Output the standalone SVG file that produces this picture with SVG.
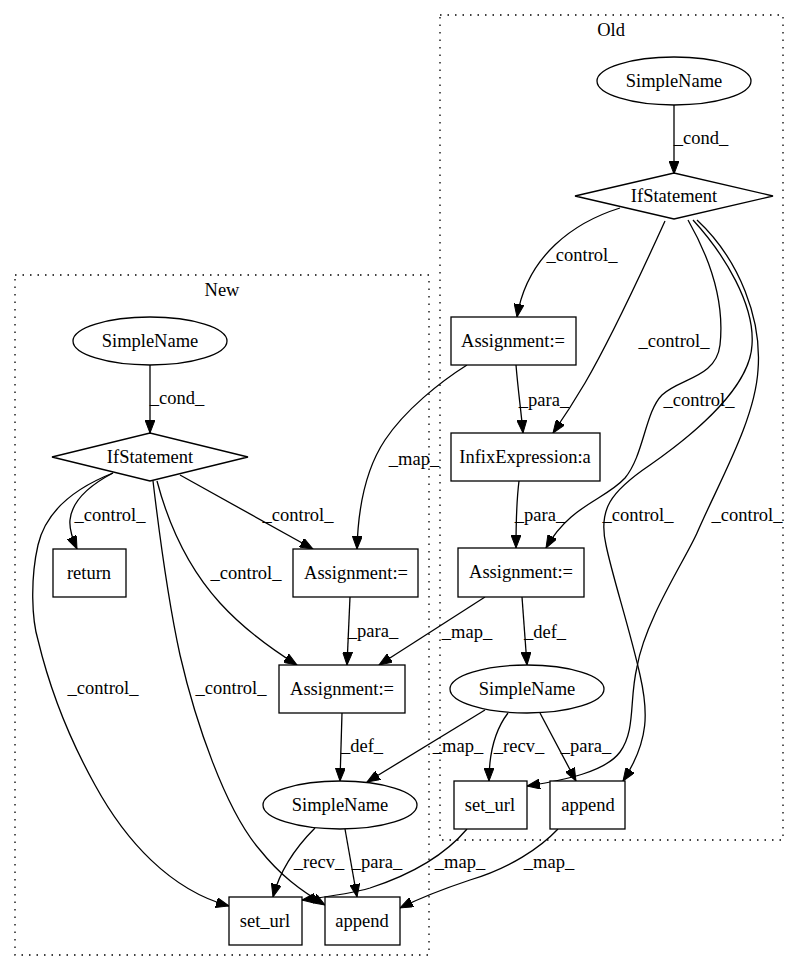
<svg xmlns="http://www.w3.org/2000/svg" width="800" height="972" viewBox="0 0 800 972">
<defs>
<marker id="ah" markerUnits="userSpaceOnUse" markerWidth="14" markerHeight="10" refX="13" refY="5" orient="auto">
<path d="M0,0 L13,5 L0,10 z" fill="#000" stroke="#000" stroke-width="1"/>
</marker>
<style>
text{font-family:"Liberation Serif","Times New Roman",serif;font-size:18.5px;fill:#000}
.n text,.cl{text-anchor:middle}
.lb{text-anchor:middle}
.n rect,.n ellipse,.n polygon{fill:#fff;stroke:#000;stroke-width:1.3}
.e path{fill:none;stroke:#000;stroke-width:1.3;marker-end:url(#ah)}
.c{fill:none;stroke:#000;stroke-width:1.3;stroke-dasharray:1.5,6}
</style>
</defs>
<rect x="0" y="0" width="800" height="972" fill="#fff"/>
<g id="clusters">
<rect class="c" x="440" y="15" width="343" height="825"/>
<text class="cl" x="611" y="36">Old</text>
<rect class="c" x="15" y="275" width="414" height="680"/>
<text class="cl" x="222" y="296">New</text>
</g>
<g id="connectors" class="e">
<path d="M674,105 L674,174"/>
<path d="M620,208 C575,222 527,255 517,317"/>
<path d="M665,221 C645,265 610,340 585,383 C572,405 562,420 553,433"/>
<path d="M688,220 C708,255 725,300 720,345 C716,378 680,378 662,395 C645,412 644,455 625,478 C605,500 570,505 546,548"/>
<path d="M693,220 C725,255 755,305 752,345 C750,385 700,430 650,465 C610,492 598,510 606,545 C612,575 630,630 640,675 C648,710 650,740 623,781"/>
<path d="M697,220 C740,260 762,320 758,370 C755,420 720,480 697,533 C685,560 645,620 637,667 C629,700 636,730 620,752 C605,772 565,780 527,786"/>
<path d="M516,365 C518,390 521,410 523,433"/>
<path d="M519,481 C516,505 516,525 516,548"/>
<path d="M522,597 L527,665"/>
<path d="M508,713 C495,730 489,755 489,781"/>
<path d="M540,713 L576,781"/>
<path d="M467,365 C440,382 405,410 385,440 C365,470 358,510 357,549"/>
<path d="M485,597 L379,665"/>
<path d="M485,710 L367,782"/>
<path d="M467,829 C445,855 410,875 370,888 C350,894 325,897 302,900"/>
<path d="M558,829 C540,848 510,868 470,880 C440,890 420,898 400,908"/>
<path d="M150,365 L150,433"/>
<path d="M113,473 C90,485 72,500 70,520 C69,530 73,540 77,549"/>
<path d="M180,475 L313,549"/>
<path d="M157,481 C170,530 190,570 220,603 C240,625 265,645 297,665"/>
<path d="M113,473 C70,490 45,515 38,545 C30,580 32,620 38,640 C50,690 70,740 95,785 C125,840 170,890 229,906"/>
<path d="M153,481 C160,540 168,600 180,655 C195,720 225,810 260,850 C280,875 300,890 325,905"/>
<path d="M350,597 L347,665"/>
<path d="M342,713 L340,781"/>
<path d="M315,828 C295,848 280,870 273,897"/>
<path d="M345,829 L357,897"/>
</g>
<g id="edge-labels" class="lb">
<text x="701" y="144">_cond_</text>
<text x="582" y="261">_control_</text>
<text x="674" y="347">_control_</text>
<text x="699" y="406">_control_</text>
<text x="638" y="521">_control_</text>
<text x="747" y="521">_control_</text>
<text x="544" y="406">_para_</text>
<text x="540" y="521">_para_</text>
<text x="467" y="638">_map_</text>
<text x="545" y="638">_def_</text>
<text x="414" y="465">_map_</text>
<text x="458" y="752">_map_</text>
<text x="519" y="752">_recv_</text>
<text x="586" y="752">_para_</text>
<text x="460" y="868">_map_</text>
<text x="549" y="868">_map_</text>
<text x="177" y="404">_cond_</text>
<text x="110" y="521">_control_</text>
<text x="298" y="521">_control_</text>
<text x="246" y="579">_control_</text>
<text x="103" y="694">_control_</text>
<text x="231" y="694">_control_</text>
<text x="373" y="637">_para_</text>
<text x="362" y="752">_def_</text>
<text x="319" y="868">_recv_</text>
<text x="377" y="868">_para_</text>
</g>
<g id="old_cond" class="n"><ellipse cx="674" cy="81" rx="77" ry="24"/><text x="674" y="87">SimpleName</text></g>
<g id="old_if" class="n"><polygon points="575,196 674,173 773,196 674,219"/><text x="674" y="202">IfStatement</text></g>
<g id="old_assign1" class="n"><rect x="451" y="317" width="125" height="48"/><text x="513" y="347">Assignment:=</text></g>
<g id="old_infix" class="n"><rect x="451" y="433" width="149" height="48"/><text x="525" y="463">InfixExpression:a</text></g>
<g id="old_assign2" class="n"><rect x="458" y="548" width="126" height="49"/><text x="521" y="578">Assignment:=</text></g>
<g id="old_name" class="n"><ellipse cx="527" cy="689" rx="77" ry="24"/><text x="527" y="695">SimpleName</text></g>
<g id="old_seturl" class="n"><rect x="454" y="781" width="73" height="48"/><text x="490" y="811">set_url</text></g>
<g id="old_append" class="n"><rect x="550" y="781" width="75" height="48"/><text x="588" y="811">append</text></g>
<g id="new_cond" class="n"><ellipse cx="150" cy="341" rx="77" ry="24"/><text x="150" y="347">SimpleName</text></g>
<g id="new_if" class="n"><polygon points="52,457 150,433 248,457 150,481"/><text x="150" y="463">IfStatement</text></g>
<g id="new_return" class="n"><rect x="53" y="549" width="73" height="48"/><text x="89" y="579">return</text></g>
<g id="new_assign1" class="n"><rect x="293" y="549" width="125" height="48"/><text x="356" y="579">Assignment:=</text></g>
<g id="new_assign2" class="n"><rect x="279" y="665" width="126" height="48"/><text x="342" y="695">Assignment:=</text></g>
<g id="new_name" class="n"><ellipse cx="340" cy="805" rx="77" ry="24"/><text x="340" y="811">SimpleName</text></g>
<g id="new_seturl" class="n"><rect x="229" y="897" width="73" height="48"/><text x="265" y="927">set_url</text></g>
<g id="new_append" class="n"><rect x="325" y="897" width="75" height="48"/><text x="362" y="927">append</text></g>
</svg>
